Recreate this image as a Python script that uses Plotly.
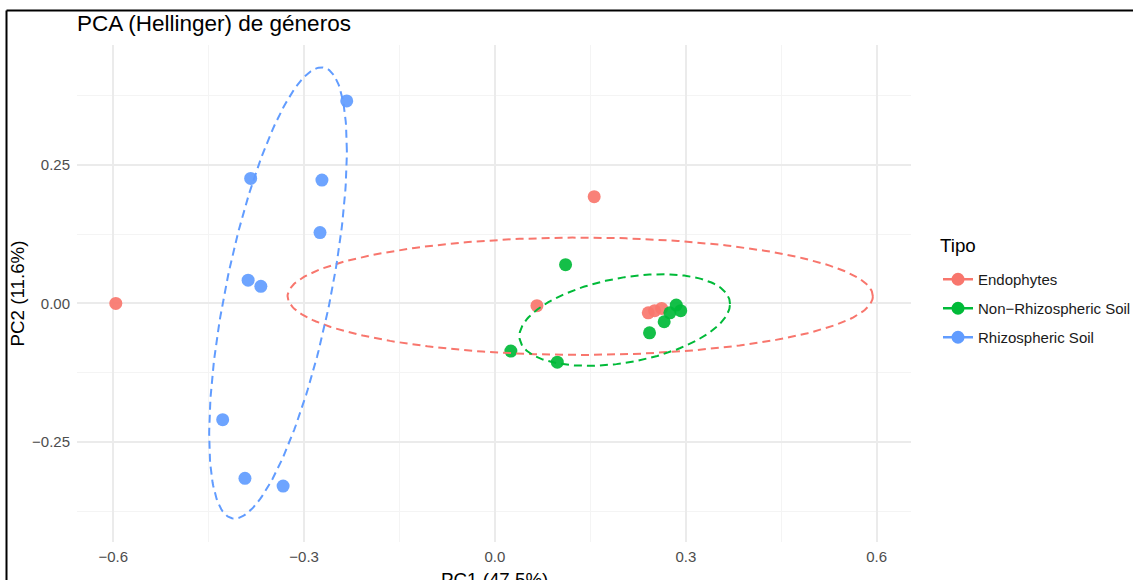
import numpy as np
import plotly.graph_objects as go

# ---- data ----
groups = ["Endophytes", "Non\u2212Rhizospheric Soil", "Rhizospheric Soil"]
colors = ["#F8766D", "#00BA38", "#619CFF"]

endo_pc1 = [-0.596, 0.156, 0.066, 0.241, 0.251, 0.262]
endo_pc2 = [0.000, 0.193, -0.004, -0.017, -0.013, -0.009]
nonrhizo_pc1 = [0.111, 0.025, 0.098, 0.243, 0.266, 0.275, 0.285, 0.292]
nonrhizo_pc2 = [0.070, -0.086, -0.106, -0.053, -0.033, -0.017, -0.003, -0.013]
rhizo_pc1 = [-0.233, -0.384, -0.272, -0.275, -0.388, -0.368, -0.428, -0.393, -0.333]
rhizo_pc2 = [0.366, 0.226, 0.223, 0.128, 0.042, 0.031, -0.210, -0.316, -0.330]

# 95% ellipse parameters (center + covariance shape) per group
ell_cx = [0.134, 0.204, -0.341]
ell_cy = [0.013, -0.030, 0.019]
ell_sxx = [0.2116, 0.02739, 0.01171]
ell_syy = [0.01124, 0.006856, 0.1661]
ell_sxy = [0.0, 0.0048, 0.0278]

x_ticks = [-0.6, -0.3, 0.0, 0.3, 0.6]
y_ticks = [-0.25, 0.0, 0.25]

FONT = "Liberation Sans, Arial, sans-serif"

fig = go.Figure()
xs = [endo_pc1, nonrhizo_pc1, rhizo_pc1]
ys = [endo_pc2, nonrhizo_pc2, rhizo_pc2]

for g, c, x, y in zip(groups, colors, xs, ys):
    fig.add_trace(go.Scatter(x=x, y=y, mode="markers", name=g, showlegend=False,
                             marker=dict(color=c, size=13, opacity=0.92, line=dict(width=0))))

t = np.linspace(0, 2 * np.pi, 241)
for i, (g, c) in enumerate(zip(groups, colors)):
    cov = np.array([[ell_sxx[i], ell_sxy[i]], [ell_sxy[i], ell_syy[i]]])
    L = np.linalg.cholesky(cov)
    pts = L @ np.vstack([np.cos(t), np.sin(t)])
    fig.add_trace(go.Scatter(x=ell_cx[i] + pts[0], y=ell_cy[i] + pts[1], mode="lines",
                             showlegend=False, hoverinfo="skip",
                             line=dict(color=c, width=2, dash="8px,5px")))

for g, c in zip(groups, colors):
    fig.add_trace(go.Scatter(x=[None], y=[None], mode="lines+markers", name=g,
                             legendgroup=g, showlegend=True,
                             marker=dict(color=c, size=13),
                             line=dict(color=c, width=2.5)))

fig.update_layout(
    width=1133, height=580, autosize=False,
    margin=dict(l=77, r=222, t=45, b=38, autoexpand=False),
    paper_bgcolor="white", plot_bgcolor="white",
    font=dict(family=FONT, color="#000000"),
    title=dict(text="PCA (Hellinger) de géneros", x=0, xref="paper", xanchor="left",
               y=1 - 23 / 580, yref="container", yanchor="middle",
               font=dict(size=22.5, color="#000000", family=FONT)),
    legend=dict(font=dict(size=15, color="#1A1A1A"),
                x=(938 - 77) / 834, xanchor="left", y=(542 - 263) / 497, yanchor="top",
                tracegroupgap=6.5, bgcolor="rgba(0,0,0,0)"),
    annotations=[
        dict(text="Tipo", xref="paper", yref="paper",
             x=(938 - 77) / 834, y=(542 - 245) / 497,
             xanchor="left", yanchor="middle", showarrow=False,
             font=dict(size=18.75, color="#000000", family=FONT)),
        dict(text="PC1 (47.5%)", xref="paper", yref="paper",
             x=0.5, y=(542 - 579) / 497, xanchor="center", yanchor="middle",
             showarrow=False, font=dict(size=18.75, color="#000000", family=FONT)),
    ],
    xaxis=dict(range=[-0.657, 0.654], tickvals=x_ticks, tickformat=".1f",
               showgrid=True, gridcolor="#EBEBEB", gridwidth=2, zeroline=False,
               showline=False, ticks="", automargin=False, ticklabelstandoff=4,
               tickfont=dict(size=15, color="#4D4D4D"),
               minor=dict(tickvals=[-0.45, -0.15, 0.15, 0.45], showgrid=True,
                          gridcolor="#F4F4F4", gridwidth=1)),
    yaxis=dict(range=[-0.431, 0.467], tickvals=y_ticks, tickformat=".2f",
               showgrid=True, gridcolor="#EBEBEB", gridwidth=2, zeroline=False,
               showline=False, ticks="", automargin=False, ticklabelstandoff=6,
               tickfont=dict(size=15, color="#4D4D4D"),
               minor=dict(tickvals=[-0.375, -0.125, 0.125, 0.375], showgrid=True,
                          gridcolor="#F4F4F4", gridwidth=1),
               title=dict(text="PC2 (11.6%)", font=dict(size=18.75, color="#000000"), standoff=2)),
    shapes=[
        dict(type="line", xref="paper", yref="paper", x0=(6.5 - 77) / 834, x1=(1140 - 77) / 834,
             y0=(542 - 10.5) / 497, y1=(542 - 10.5) / 497, line=dict(color="black", width=2)),
        dict(type="line", xref="paper", yref="paper", x0=(6.5 - 77) / 834, x1=(6.5 - 77) / 834,
             y0=(542 - 10.5) / 497, y1=(542 - 600) / 497, line=dict(color="black", width=2)),
    ],
)

fig.write_html("out.html")
